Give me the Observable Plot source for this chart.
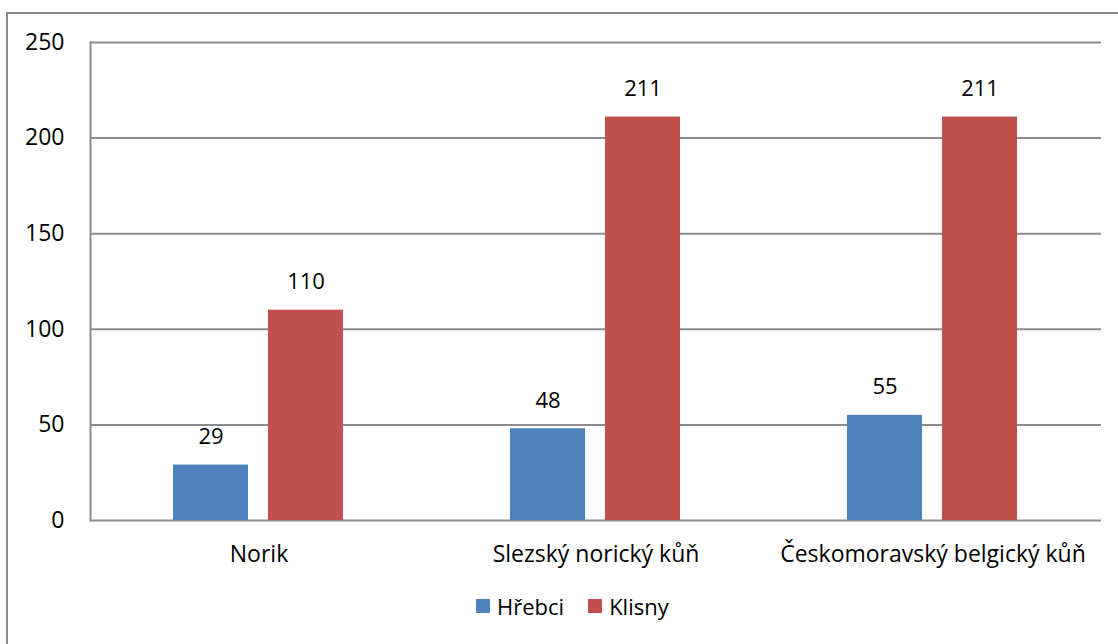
<!DOCTYPE html>
<html><head><meta charset="utf-8">
<script src="https://cdn.jsdelivr.net/npm/d3@7"></script>
<script src="https://cdn.jsdelivr.net/npm/@observablehq/plot@0.6"></script>
<style>
html,body{margin:0;padding:0}
body{overflow:hidden;background:#fff;width:1118px;height:644px;position:relative;font-family:"Open Sans",sans-serif}
#frame{position:absolute;left:6px;top:12px;width:1140px;height:680px;border:2px solid #8c8c8c;box-sizing:border-box}
#chart{position:absolute;left:0;top:0}
#legend{position:absolute;top:591px;left:476px;display:flex;align-items:center;font-size:22px;color:#000;white-space:nowrap}
.item{display:flex;align-items:center;margin-right:24px}
.sw{width:14px;height:14px;margin-right:7px}
</style>
</head><body>
<div id="frame"></div>
<div id="chart"></div>
<div id="legend"></div>
<script>
const categories = ["Norik", "Slezský norický kůň", "Českomoravský belgický kůň"];
const seriesNames = ["Hřebci", "Klisny"];
const hrebci = [29, 48, 55];
const klisny = [110, 211, 211];
const yTicks = [0, 50, 100, 150, 200, 250];
const colors = ["#4F81BD", "#C0504D"];

const data = [];
categories.forEach((c, i) => {
  data.push({cat: c, series: seriesNames[0], value: hrebci[i]});
  data.push({cat: c, series: seriesNames[1], value: klisny[i]});
});

const fontFamily = '"Open Sans", sans-serif';

const chart = Plot.plot({
  width: 1118,
  height: 580,
  marginLeft: 89,
  marginRight: 16,
  marginTop: 42,
  marginBottom: 60,
  style: {fontFamily, fontSize: "23px", color: "#000", background: "transparent", overflow: "visible"},
  fx: {domain: categories, padding: 0, label: null},
  x: {domain: seriesNames, paddingInner: 0.208, paddingOuter: 0.865, axis: null},
  y: {domain: [0, 250], label: null},
  color: {domain: seriesNames, range: colors},
  marks: [
    Plot.ruleY(yTicks, {stroke: "#8c8c8c", strokeWidth: 2}),
    Plot.frame({anchor: "left", facetAnchor: "left", stroke: "#8c8c8c", strokeWidth: 2}),
    Plot.axisY({ticks: yTicks, tickSize: 0, tickPadding: 26, fontSize: 23, label: null, tickFormat: d => String(d)}),
    Plot.axisFx({anchor: "bottom", tickSize: 0, tickPadding: 25, fontSize: 23, label: null}),
    Plot.barY(data, {fx: "cat", x: "series", y: "value", fill: "series"}),
    Plot.text(data, {fx: "cat", x: "series", y: "value", text: d => String(d.value), dy: -28, fontSize: 22, fill: "#000"})
  ]
});
document.getElementById("chart").appendChild(chart);

const legend = document.getElementById("legend");
seriesNames.forEach((s, i) => {
  const it = document.createElement("div");
  it.className = "item";
  const sw = document.createElement("div");
  sw.className = "sw";
  sw.style.background = colors[i];
  const t = document.createElement("span");
  t.textContent = s;
  it.appendChild(sw);
  it.appendChild(t);
  legend.appendChild(it);
});
</script>
</body></html>
